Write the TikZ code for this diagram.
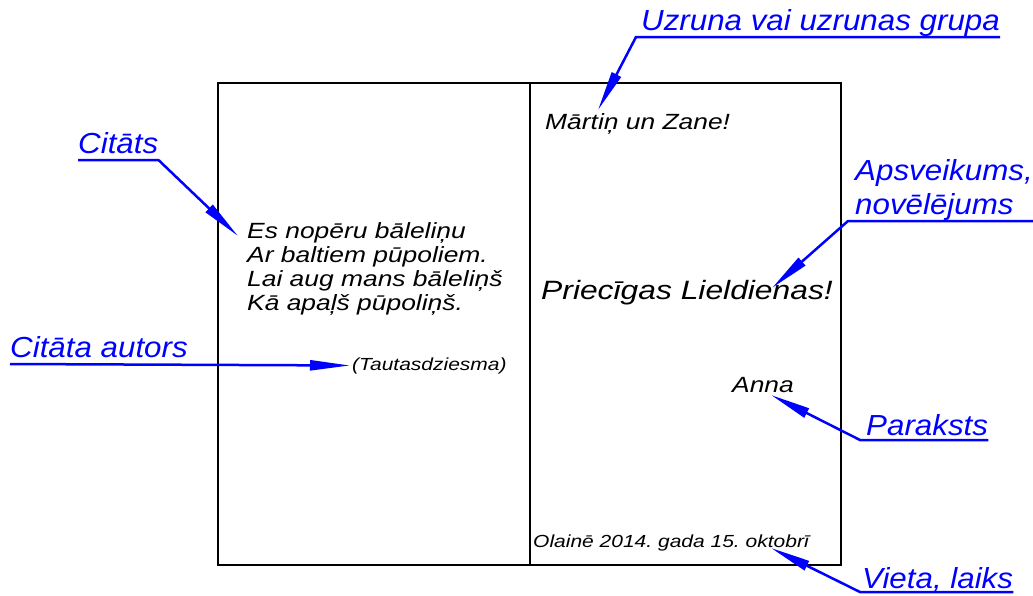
\documentclass[tikz,border=0pt]{standalone}
\usepackage{fontspec}
\setmainfont{Liberation Sans}
\newfontfamily\cardfont[FakeStretch=1.2]{Liberation Sans}
\newfontfamily\notefont[FakeStretch=1.08]{Liberation Sans}
\usetikzlibrary{arrows.meta,calc}
\frenchspacing

\begin{document}
\begin{tikzpicture}[x=1pt, y=-1pt,
    card/.style={line width=1.5pt},
    txt/.style={font=\cardfont\itshape\fontsize{22}{24}\selectfont, inner sep=0pt, anchor=base west},
    lbl/.style={font=\notefont\itshape\fontsize{29}{34}\selectfont, text=blue, inner sep=0pt, anchor=base west},
    callout/.style={draw=blue, line width=2.5pt, -{Triangle[length=40pt,width=10pt]}}]
  \useasboundingbox (0,0) rectangle (1033,595);
  % kartite
  \draw[card] (218,83) rectangle (841,565);
  \draw[card] (530,83) -- (530,565);
  % teksts uz kartites
  \node[txt] (poem1) at (247,238) {Es nopēru bāleliņu};
  \node[txt] (poem2) at (247,262) {Ar baltiem pūpoliem.};
  \node[txt] (poem3) at (247,286) {Lai aug mans bāleliņš};
  \node[txt] (poem4) at (247,310) {Kā apaļš pūpoliņš.};
  \node[txt, font=\cardfont\itshape\fontsize{17.5}{20}\selectfont] (tautas) at (352,370) {(Tautasdziesma)};
  \node[txt] (martins) at (545,129) {Mārtiņ un Zane!};
  \node[txt, font=\cardfont\itshape\fontsize{26.5}{30}\selectfont] (priec) at (541,299) {Priecīgas Lieldienas!};
  \node[txt] (anna) at (732,392) {Anna};
  \node[txt, font=\cardfont\itshape\fontsize{17.5}{22}\selectfont] (olaine) at (533,547) {Olainē 2014. gada 15. oktobrī};
  % paskaidrojumi
  \node[lbl] (citats) at (78,153) {Citāts};
  \node[lbl] (autors) at (10,357) {Citāta autors};
  \node[lbl] (uzruna) at (641,30) {Uzruna vai uzrunas grupa};
  \node[lbl] (apsv) at (855,180) {Apsveikums,};
  \node[lbl] (novel) at (855,214) {novēlējums};
  \node[lbl] (paraksts) at (866,435) {Paraksts};
  \node[lbl] (vieta) at (862,588) {Vieta, laiks};
  % bultas
  \draw[callout] ($(citats.base west)+(0,7)$) -- ($(citats.base east)+(0,7)$) -- ($(poem1.base west)+(-9,-2)$);
  \draw[callout] ($(autors.base west)+(0,7)$) -- ($(tautas.west)+(-2,0)$);
  \draw[callout] ($(uzruna.base east)+(0,7)$) -- ($(uzruna.base west)+(-5,7)$) -- ($(martins.base west)+(53,-19)$);
  \draw[callout] (1033,221) -- ($(novel.base west)+(-7,7)$) -- ($(priec.base west)+(231,-11)$);
  \draw[callout] ($(paraksts.base east)+(0,5)$) -- ($(paraksts.base west)+(-6,5)$) -- ($(anna.base west)+(39,3)$);
  \draw[callout] ($(vieta.base east)+(0,4)$) -- ($(vieta.base west)+(-2,4)$) -- ($(olaine.base west)+(238,1)$);
\end{tikzpicture}
\end{document}
